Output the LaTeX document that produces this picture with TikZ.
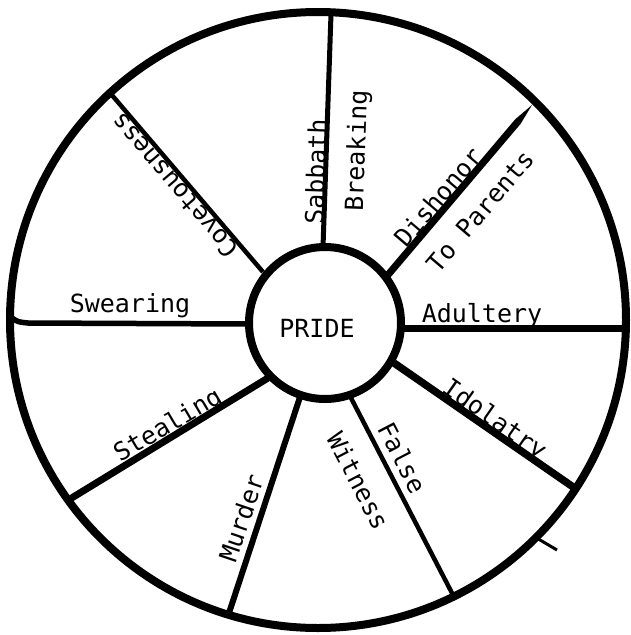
\documentclass[tikz,border=0pt]{standalone}
\usepackage{fontspec}
\newfontfamily\wheelmono{DejaVu Sans Mono}
\begin{document}
\begin{tikzpicture}[x=1pt,y=-1pt,
  lab/.style={font=\wheelmono\fontsize{25}{25}\selectfont, inner sep=0pt, anchor=base},
  ring/.style={draw, circle, inner sep=0pt, line width=8pt},
  spoke/.style={line width=#1},
  spoke/.default=5pt]
\useasboundingbox (0,0) rectangle (630,635);
% circles
\node[ring, minimum size=616pt] (wheel) at (318,320) {};
\node[ring, minimum size=152pt] (hub) at (325,323) {};
\node[lab] (pride) at (317,337) {PRIDE};
% spoke end points
\coordinate (sab1) at (323,247); \coordinate (sab2) at (331,14);
\coordinate (adu1) at (402,328); \coordinate (adu2) at (624,328);
\coordinate (ido1) at (394,363); \coordinate (ido2) at (576,489);
\coordinate (fal1) at (350,396); \coordinate (fal2) at (453,595);
\coordinate (mur1) at (300,397); \coordinate (mur2) at (229,613);
\coordinate (ste1) at (268,378); \coordinate (ste2) at (70,499);
\coordinate (swe1) at (247,324); \coordinate (swe3) at (28,323); \coordinate (swe2) at (12,318);
\coordinate (cov1) at (263,272); \coordinate (cov2) at (111,94);
\coordinate (dis1a) at (384.3,273.7); \coordinate (dis1b) at (389.7,278.3);
\coordinate (dis2a) at (515.1,119.4); \coordinate (dis2b) at (520.5,124.0);
\coordinate (distip) at (532,105);
\coordinate (tick1) at (535,537); \coordinate (tick2) at (557,550);
% spokes
\draw[spoke=5pt] (sab1) -- (sab2);
\fill (dis1a) -- (dis2a) -- (distip) -- (dis2b) -- (dis1b) -- cycle;
\draw[spoke=7pt] (adu1) -- (adu2);
\draw[spoke=7.5pt] (ido1) -- (ido2);
\draw[spoke=4.5pt] (fal1) -- (fal2);
\draw[spoke=6pt] (mur1) -- (mur2);
\draw[spoke=7pt] (ste1) -- (ste2);
\draw[spoke=5.5pt] (swe1) -- (swe3) .. controls (18,322) .. (swe2);
\draw[spoke=4.5pt] (cov1) -- (cov2);
\draw[spoke=3pt] (tick1) -- (tick2);
% labels
\node[lab, rotate=88] (sabbath) at (325,172) {Sabbath};
\node[lab, rotate=88] (breaking) at (365,151) {Breaking};
\node[lab, rotate=49.7] (dishonor) at (445,203) {Dishonor};
\node[lab, rotate=49.7] (parents) at (487,217) {To Parents};
\node[lab] (adultery) at (482,322) {Adultery};
\node[lab, rotate=-35] (idolatry) at (490,426) {Idolatry};
\node[lab, rotate=-62.6] (false) at (394,462) {False};
\node[lab, rotate=-62.6] (witness) at (350,485) {Witness};
\node[lab, rotate=71.3] (murder) at (250,521) {Murder};
\node[lab, rotate=30.6] (stealing) at (172,432) {Stealing};
\node[lab] (swearing) at (130,312) {Swearing};
\node[lab, rotate=130.5] (covet) at (181,180) {Covetousness};
\end{tikzpicture}
\end{document}
